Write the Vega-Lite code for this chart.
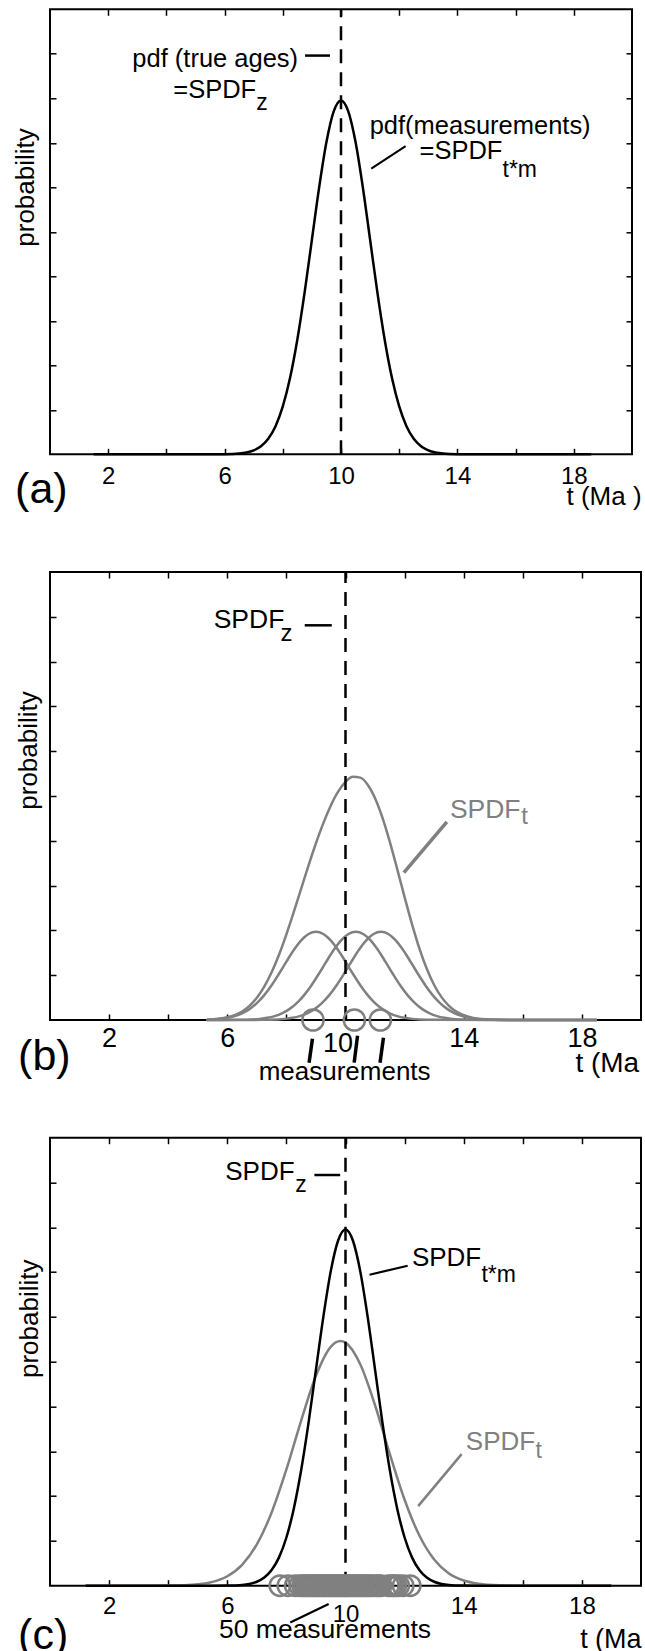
{
"$schema": "https://vega.github.io/schema/vega-lite/v6.json",
"background": "white",
"padding": {"left": 11, "top": 6.3, "right": 0, "bottom": 0},
"bounds": "flush",
"spacing": 117.7,
"datasets": {
"curves": [
{"panel":"a","s":"tm","t":1.5,"p":0},{"panel":"a","s":"tm","t":5.5,"p":0},{"panel":"a","s":"tm","t":6,"p":0.0003},{"panel":"a","s":"tm","t":6.5,"p":0.0017},{"panel":"a","s":"tm","t":6.75,"p":0.004},{"panel":"a","s":"tm","t":7,"p":0.0088},{"panel":"a","s":"tm","t":7.25,"p":0.0181},{"panel":"a","s":"tm","t":7.5,"p":0.0349},{"panel":"a","s":"tm","t":7.75,"p":0.0632},{"panel":"a","s":"tm","t":8,"p":0.1076},{"panel":"a","s":"tm","t":8.25,"p":0.1719},{"panel":"a","s":"tm","t":8.5,"p":0.2581},{"panel":"a","s":"tm","t":8.75,"p":0.364},{"panel":"a","s":"tm","t":9,"p":0.4822},{"panel":"a","s":"tm","t":9.25,"p":0.6001},{"panel":"a","s":"tm","t":9.5,"p":0.7016},{"panel":"a","s":"tm","t":9.75,"p":0.7705},{"panel":"a","s":"tm","t":10,"p":0.795},{"panel":"a","s":"tm","t":10.25,"p":0.7705},{"panel":"a","s":"tm","t":10.5,"p":0.7016},{"panel":"a","s":"tm","t":10.75,"p":0.6001},{"panel":"a","s":"tm","t":11,"p":0.4822},{"panel":"a","s":"tm","t":11.25,"p":0.364},{"panel":"a","s":"tm","t":11.5,"p":0.2581},{"panel":"a","s":"tm","t":11.75,"p":0.1719},{"panel":"a","s":"tm","t":12,"p":0.1076},{"panel":"a","s":"tm","t":12.25,"p":0.0632},{"panel":"a","s":"tm","t":12.5,"p":0.0349},{"panel":"a","s":"tm","t":12.75,"p":0.0181},{"panel":"a","s":"tm","t":13,"p":0.0088},{"panel":"a","s":"tm","t":13.25,"p":0.004},{"panel":"a","s":"tm","t":13.5,"p":0.0017},{"panel":"a","s":"tm","t":14,"p":0.0003},{"panel":"a","s":"tm","t":14.5,"p":0},{"panel":"a","s":"tm","t":18.6,"p":0},

{"panel":"b","s":"sum","t":5.3,"p":0},{"panel":"b","s":"sum","t":5.5,"p":0.0016},{"panel":"b","s":"sum","t":5.75,"p":0.0032},{"panel":"b","s":"sum","t":6,"p":0.0061},{"panel":"b","s":"sum","t":6.25,"p":0.011},{"panel":"b","s":"sum","t":6.5,"p":0.0191},{"panel":"b","s":"sum","t":6.75,"p":0.0315},{"panel":"b","s":"sum","t":7,"p":0.0496},{"panel":"b","s":"sum","t":7.25,"p":0.0743},{"panel":"b","s":"sum","t":7.5,"p":0.1064},{"panel":"b","s":"sum","t":7.75,"p":0.1457},{"panel":"b","s":"sum","t":8,"p":0.1912},{"panel":"b","s":"sum","t":8.25,"p":0.2412},{"panel":"b","s":"sum","t":8.5,"p":0.2934},{"panel":"b","s":"sum","t":8.75,"p":0.3453},{"panel":"b","s":"sum","t":9,"p":0.3946},{"panel":"b","s":"sum","t":9.25,"p":0.4395},{"panel":"b","s":"sum","t":9.5,"p":0.4783},{"panel":"b","s":"sum","t":9.75,"p":0.5096},{"panel":"b","s":"sum","t":10,"p":0.5316},{"panel":"b","s":"sum","t":10.25,"p":0.5427},{"panel":"b","s":"sum","t":10.5,"p":0.541},{"panel":"b","s":"sum","t":10.75,"p":0.5253},{"panel":"b","s":"sum","t":11,"p":0.4951},{"panel":"b","s":"sum","t":11.25,"p":0.4516},{"panel":"b","s":"sum","t":11.5,"p":0.3976},{"panel":"b","s":"sum","t":11.75,"p":0.3369},{"panel":"b","s":"sum","t":12,"p":0.2743},{"panel":"b","s":"sum","t":12.25,"p":0.2142},{"panel":"b","s":"sum","t":12.5,"p":0.1601},{"panel":"b","s":"sum","t":12.75,"p":0.1145},{"panel":"b","s":"sum","t":13,"p":0.0782},{"panel":"b","s":"sum","t":13.25,"p":0.051},{"panel":"b","s":"sum","t":13.5,"p":0.0317},{"panel":"b","s":"sum","t":13.75,"p":0.0188},{"panel":"b","s":"sum","t":14,"p":0.0106},{"panel":"b","s":"sum","t":14.25,"p":0.0057},{"panel":"b","s":"sum","t":14.5,"p":0.0029},{"panel":"b","s":"sum","t":14.75,"p":0.0014},{"panel":"b","s":"sum","t":15,"p":0.0006},{"panel":"b","s":"sum","t":15.5,"p":0.0001},{"panel":"b","s":"sum","t":18.5,"p":0},

{"panel":"b","s":"m1","t":5.3,"p":0.0007},{"panel":"b","s":"m1","t":5.5,"p":0.0012},{"panel":"b","s":"m1","t":5.75,"p":0.0025},{"panel":"b","s":"m1","t":6,"p":0.0048},{"panel":"b","s":"m1","t":6.25,"p":0.0087},{"panel":"b","s":"m1","t":6.5,"p":0.0149},{"panel":"b","s":"m1","t":6.75,"p":0.0243},{"panel":"b","s":"m1","t":7,"p":0.0377},{"panel":"b","s":"m1","t":7.25,"p":0.0556},{"panel":"b","s":"m1","t":7.5,"p":0.0777},{"panel":"b","s":"m1","t":7.75,"p":0.1033},{"panel":"b","s":"m1","t":8,"p":0.1303},{"panel":"b","s":"m1","t":8.25,"p":0.1561},{"panel":"b","s":"m1","t":8.5,"p":0.1777},{"panel":"b","s":"m1","t":8.75,"p":0.192},{"panel":"b","s":"m1","t":9,"p":0.197},{"panel":"b","s":"m1","t":9.25,"p":0.192},{"panel":"b","s":"m1","t":9.5,"p":0.1777},{"panel":"b","s":"m1","t":9.75,"p":0.1561},{"panel":"b","s":"m1","t":10,"p":0.1303},{"panel":"b","s":"m1","t":10.25,"p":0.1033},{"panel":"b","s":"m1","t":10.5,"p":0.0777},{"panel":"b","s":"m1","t":10.75,"p":0.0556},{"panel":"b","s":"m1","t":11,"p":0.0377},{"panel":"b","s":"m1","t":11.25,"p":0.0243},{"panel":"b","s":"m1","t":11.5,"p":0.0149},{"panel":"b","s":"m1","t":11.75,"p":0.0087},{"panel":"b","s":"m1","t":12,"p":0.0048},{"panel":"b","s":"m1","t":12.25,"p":0.0025},{"panel":"b","s":"m1","t":12.5,"p":0.0012},{"panel":"b","s":"m1","t":13,"p":0.0003},{"panel":"b","s":"m1","t":18.5,"p":0},

{"panel":"b","s":"m2","t":5.3,"p":0},{"panel":"b","s":"m2","t":6.35,"p":0.0003},{"panel":"b","s":"m2","t":6.85,"p":0.0012},{"panel":"b","s":"m2","t":7.1,"p":0.0025},{"panel":"b","s":"m2","t":7.35,"p":0.0048},{"panel":"b","s":"m2","t":7.6,"p":0.0087},{"panel":"b","s":"m2","t":7.85,"p":0.0149},{"panel":"b","s":"m2","t":8.1,"p":0.0243},{"panel":"b","s":"m2","t":8.35,"p":0.0377},{"panel":"b","s":"m2","t":8.6,"p":0.0556},{"panel":"b","s":"m2","t":8.85,"p":0.0777},{"panel":"b","s":"m2","t":9.1,"p":0.1033},{"panel":"b","s":"m2","t":9.35,"p":0.1303},{"panel":"b","s":"m2","t":9.6,"p":0.1561},{"panel":"b","s":"m2","t":9.85,"p":0.1777},{"panel":"b","s":"m2","t":10.1,"p":0.192},{"panel":"b","s":"m2","t":10.35,"p":0.197},{"panel":"b","s":"m2","t":10.6,"p":0.192},{"panel":"b","s":"m2","t":10.85,"p":0.1777},{"panel":"b","s":"m2","t":11.1,"p":0.1561},{"panel":"b","s":"m2","t":11.35,"p":0.1303},{"panel":"b","s":"m2","t":11.6,"p":0.1033},{"panel":"b","s":"m2","t":11.85,"p":0.0777},{"panel":"b","s":"m2","t":12.1,"p":0.0556},{"panel":"b","s":"m2","t":12.35,"p":0.0377},{"panel":"b","s":"m2","t":12.6,"p":0.0243},{"panel":"b","s":"m2","t":12.85,"p":0.0149},{"panel":"b","s":"m2","t":13.1,"p":0.0087},{"panel":"b","s":"m2","t":13.35,"p":0.0048},{"panel":"b","s":"m2","t":13.6,"p":0.0025},{"panel":"b","s":"m2","t":13.85,"p":0.0012},{"panel":"b","s":"m2","t":14.35,"p":0.0003},{"panel":"b","s":"m2","t":18.5,"p":0},

{"panel":"b","s":"m3","t":5.3,"p":0},{"panel":"b","s":"m3","t":7.2,"p":0.0003},{"panel":"b","s":"m3","t":7.7,"p":0.0012},{"panel":"b","s":"m3","t":7.95,"p":0.0025},{"panel":"b","s":"m3","t":8.2,"p":0.0048},{"panel":"b","s":"m3","t":8.45,"p":0.0087},{"panel":"b","s":"m3","t":8.7,"p":0.0149},{"panel":"b","s":"m3","t":8.95,"p":0.0243},{"panel":"b","s":"m3","t":9.2,"p":0.0377},{"panel":"b","s":"m3","t":9.45,"p":0.0556},{"panel":"b","s":"m3","t":9.7,"p":0.0777},{"panel":"b","s":"m3","t":9.95,"p":0.1033},{"panel":"b","s":"m3","t":10.2,"p":0.1303},{"panel":"b","s":"m3","t":10.45,"p":0.1561},{"panel":"b","s":"m3","t":10.7,"p":0.1777},{"panel":"b","s":"m3","t":10.95,"p":0.192},{"panel":"b","s":"m3","t":11.2,"p":0.197},{"panel":"b","s":"m3","t":11.45,"p":0.192},{"panel":"b","s":"m3","t":11.7,"p":0.1777},{"panel":"b","s":"m3","t":11.95,"p":0.1561},{"panel":"b","s":"m3","t":12.2,"p":0.1303},{"panel":"b","s":"m3","t":12.45,"p":0.1033},{"panel":"b","s":"m3","t":12.7,"p":0.0777},{"panel":"b","s":"m3","t":12.95,"p":0.0556},{"panel":"b","s":"m3","t":13.2,"p":0.0377},{"panel":"b","s":"m3","t":13.45,"p":0.0243},{"panel":"b","s":"m3","t":13.7,"p":0.0149},{"panel":"b","s":"m3","t":13.95,"p":0.0087},{"panel":"b","s":"m3","t":14.2,"p":0.0048},{"panel":"b","s":"m3","t":14.45,"p":0.0025},{"panel":"b","s":"m3","t":14.7,"p":0.0012},{"panel":"b","s":"m3","t":15.2,"p":0.0003},{"panel":"b","s":"m3","t":18.5,"p":0},

{"panel":"c","s":"tm","t":1.2,"p":0},{"panel":"c","s":"tm","t":5.5,"p":0},{"panel":"c","s":"tm","t":6,"p":0.0003},{"panel":"c","s":"tm","t":6.5,"p":0.0017},{"panel":"c","s":"tm","t":6.75,"p":0.004},{"panel":"c","s":"tm","t":7,"p":0.0088},{"panel":"c","s":"tm","t":7.25,"p":0.0181},{"panel":"c","s":"tm","t":7.5,"p":0.0349},{"panel":"c","s":"tm","t":7.75,"p":0.0632},{"panel":"c","s":"tm","t":8,"p":0.1076},{"panel":"c","s":"tm","t":8.25,"p":0.1719},{"panel":"c","s":"tm","t":8.5,"p":0.2581},{"panel":"c","s":"tm","t":8.75,"p":0.364},{"panel":"c","s":"tm","t":9,"p":0.4822},{"panel":"c","s":"tm","t":9.25,"p":0.6001},{"panel":"c","s":"tm","t":9.5,"p":0.7016},{"panel":"c","s":"tm","t":9.75,"p":0.7705},{"panel":"c","s":"tm","t":10,"p":0.795},{"panel":"c","s":"tm","t":10.25,"p":0.7705},{"panel":"c","s":"tm","t":10.5,"p":0.7016},{"panel":"c","s":"tm","t":10.75,"p":0.6001},{"panel":"c","s":"tm","t":11,"p":0.4822},{"panel":"c","s":"tm","t":11.25,"p":0.364},{"panel":"c","s":"tm","t":11.5,"p":0.2581},{"panel":"c","s":"tm","t":11.75,"p":0.1719},{"panel":"c","s":"tm","t":12,"p":0.1076},{"panel":"c","s":"tm","t":12.25,"p":0.0632},{"panel":"c","s":"tm","t":12.5,"p":0.0349},{"panel":"c","s":"tm","t":12.75,"p":0.0181},{"panel":"c","s":"tm","t":13,"p":0.0088},{"panel":"c","s":"tm","t":13.25,"p":0.004},{"panel":"c","s":"tm","t":13.5,"p":0.0017},{"panel":"c","s":"tm","t":14,"p":0.0003},{"panel":"c","s":"tm","t":14.5,"p":0},{"panel":"c","s":"tm","t":19,"p":0},

{"panel":"c","s":"sum","t":1.2,"p":0},{"panel":"c","s":"sum","t":3.5,"p":0},{"panel":"c","s":"sum","t":4,"p":0.0003},{"panel":"c","s":"sum","t":4.5,"p":0.001},{"panel":"c","s":"sum","t":5,"p":0.0031},{"panel":"c","s":"sum","t":5.5,"p":0.0085},{"panel":"c","s":"sum","t":6,"p":0.021},{"panel":"c","s":"sum","t":6.5,"p":0.0465},{"panel":"c","s":"sum","t":7,"p":0.0921},{"panel":"c","s":"sum","t":7.5,"p":0.1635},{"panel":"c","s":"sum","t":8,"p":0.2594},{"panel":"c","s":"sum","t":8.5,"p":0.3686},{"panel":"c","s":"sum","t":9,"p":0.4685},{"panel":"c","s":"sum","t":9.5,"p":0.533},{"panel":"c","s":"sum","t":9.83,"p":0.546},{"panel":"c","s":"sum","t":10,"p":0.5425},{"panel":"c","s":"sum","t":10.5,"p":0.4941},{"panel":"c","s":"sum","t":11,"p":0.4028},{"panel":"c","s":"sum","t":11.5,"p":0.2938},{"panel":"c","s":"sum","t":12,"p":0.1918},{"panel":"c","s":"sum","t":12.5,"p":0.112},{"panel":"c","s":"sum","t":13,"p":0.0585},{"panel":"c","s":"sum","t":13.5,"p":0.0274},{"panel":"c","s":"sum","t":14,"p":0.0115},{"panel":"c","s":"sum","t":14.5,"p":0.0043},{"panel":"c","s":"sum","t":15,"p":0.0014},{"panel":"c","s":"sum","t":15.5,"p":0.0004},{"panel":"c","s":"sum","t":16,"p":0.0001},{"panel":"c","s":"sum","t":19,"p":0}
],
"meas": [
{"panel":"b","t":8.9},{"panel":"b","t":10.3},{"panel":"b","t":11.18},
{"panel":"c","t":7.78},{"panel":"c","t":8.05},{"panel":"c","t":8.3},{"panel":"c","t":8.45},{"panel":"c","t":8.55},{"panel":"c","t":8.62},{"panel":"c","t":8.7},{"panel":"c","t":8.78},{"panel":"c","t":8.85},{"panel":"c","t":8.9},{"panel":"c","t":8.97},{"panel":"c","t":9.05},{"panel":"c","t":9.1},{"panel":"c","t":9.18},{"panel":"c","t":9.25},{"panel":"c","t":9.3},{"panel":"c","t":9.38},{"panel":"c","t":9.45},{"panel":"c","t":9.5},{"panel":"c","t":9.57},{"panel":"c","t":9.63},{"panel":"c","t":9.7},{"panel":"c","t":9.76},{"panel":"c","t":9.82},{"panel":"c","t":9.88},{"panel":"c","t":9.94},{"panel":"c","t":10.0},{"panel":"c","t":10.06},{"panel":"c","t":10.12},{"panel":"c","t":10.2},{"panel":"c","t":10.27},{"panel":"c","t":10.33},{"panel":"c","t":10.4},{"panel":"c","t":10.48},{"panel":"c","t":10.55},{"panel":"c","t":10.62},{"panel":"c","t":10.7},{"panel":"c","t":10.78},{"panel":"c","t":10.85},{"panel":"c","t":10.95},{"panel":"c","t":11.05},{"panel":"c","t":11.12},{"panel":"c","t":11.2},{"panel":"c","t":11.45},{"panel":"c","t":11.55},{"panel":"c","t":11.62},{"panel":"c","t":11.7},{"panel":"c","t":11.8},{"panel":"c","t":11.95},{"panel":"c","t":12.19}
]
},
"vconcat": [
{
"width": 582, "height": 445,
"data": {"values": [{}]},
"resolve": {"axis": {"x": "independent", "y": "independent"}},
"layer": [
{"data": {"name": "curves"}, "transform": [{"filter": "datum.panel == 'a'"}],
 "mark": {"type": "line", "color": "black", "strokeWidth": 2.5, "interpolate": "monotone"},
 "encoding": {
  "x": {"field": "t", "type": "quantitative", "scale": {"domain": [0, 20], "nice": false}, "axis": {"orient": "bottom", "values": [2,4,6,8,10,12,14,16,18], "labelExpr": "datum.value % 4 == 2 ? datum.label : ''", "labelFontSize": 24, "labelBaseline": "alphabetic", "labelPadding": 35.5, "title": null}},
  "y": {"field": "p", "type": "quantitative", "scale": {"domain": [0, 1], "nice": false}, "axis": {"orient": "left", "values": [0.1,0.2,0.3,0.4,0.5,0.6,0.7,0.8,0.9], "labels": false, "title": "probability", "titleFontSize": 26, "titleAngle": 270, "titleX": -17, "titleY": 177.7, "titleAlign": "center", "titleBaseline": "alphabetic"}}
 }},
{"mark": {"type": "rule", "color": "black", "strokeWidth": 2.5, "strokeDash": [14, 9]},
 "encoding": {
  "x": {"datum": 10, "type": "quantitative", "scale": {"domain": [0, 20], "nice": false}, "axis": {"orient": "top", "values": [2,4,6,8,10,12,14,16,18], "labels": false, "title": null}},
  "y": {"datum": 0, "type": "quantitative", "scale": {"domain": [0, 1], "nice": false}, "axis": {"orient": "right", "values": [0.1,0.2,0.3,0.4,0.5,0.6,0.7,0.8,0.9], "labels": false, "title": null}},
  "y2": {"datum": 1}
 }},
{"mark": {"type": "text", "align": "right", "baseline": "alphabetic", "fontSize": 25.5},
 "encoding": {"x": {"datum": 8.525, "type": "quantitative", "scale": {"domain": [0, 20], "nice": false}, "axis": null}, "y": {"datum": 0.8704, "type": "quantitative", "scale": {"domain": [0, 1], "nice": false}, "axis": null}, "text": {"value": "pdf (true ages)"}}},
{"mark": {"type": "rule", "color": "black", "strokeWidth": 2.5},
 "encoding": {"x": {"datum": 8.765, "type": "quantitative", "scale": {"domain": [0, 20], "nice": false}, "axis": null}, "x2": {"datum": 9.623}, "y": {"datum": 0.896, "type": "quantitative", "scale": {"domain": [0, 1], "nice": false}, "axis": null}}},
{"mark": {"type": "text", "align": "left", "baseline": "alphabetic", "fontSize": 25.5},
 "encoding": {"x": {"datum": 4.237, "type": "quantitative", "scale": {"domain": [0, 20], "nice": false}, "axis": null}, "y": {"datum": 0.8007, "type": "quantitative", "scale": {"domain": [0, 1], "nice": false}, "axis": null}, "text": {"value": "=SPDF"}}},
{"mark": {"type": "text", "align": "left", "baseline": "alphabetic", "fontSize": 23},
 "encoding": {"x": {"datum": 7.086, "type": "quantitative", "scale": {"domain": [0, 20], "nice": false}, "axis": null}, "y": {"datum": 0.773, "type": "quantitative", "scale": {"domain": [0, 1], "nice": false}, "axis": null}, "text": {"value": "z"}}},
{"mark": {"type": "text", "align": "left", "baseline": "alphabetic", "fontSize": 25.5},
 "encoding": {"x": {"datum": 10.985, "type": "quantitative", "scale": {"domain": [0, 20], "nice": false}, "axis": null}, "y": {"datum": 0.7205, "type": "quantitative", "scale": {"domain": [0, 1], "nice": false}, "axis": null}, "text": {"value": "pdf(measurements)"}}},
{"mark": {"type": "text", "align": "left", "baseline": "alphabetic", "fontSize": 25.5},
 "encoding": {"x": {"datum": 12.7, "type": "quantitative", "scale": {"domain": [0, 20], "nice": false}, "axis": null}, "y": {"datum": 0.6643, "type": "quantitative", "scale": {"domain": [0, 1], "nice": false}, "axis": null}, "text": {"value": "=SPDF"}}},
{"mark": {"type": "text", "align": "left", "baseline": "alphabetic", "fontSize": 23},
 "encoding": {"x": {"datum": 15.55, "type": "quantitative", "scale": {"domain": [0, 20], "nice": false}, "axis": null}, "y": {"datum": 0.6231, "type": "quantitative", "scale": {"domain": [0, 1], "nice": false}, "axis": null}, "text": {"value": "t*m"}}},
{"mark": {"type": "rule", "color": "black", "strokeWidth": 2},
 "encoding": {"x": {"datum": 11.04, "type": "quantitative", "scale": {"domain": [0, 20], "nice": false}, "axis": null}, "x2": {"datum": 12.22}, "y": {"datum": 0.6418, "type": "quantitative", "scale": {"domain": [0, 1], "nice": false}, "axis": null}, "y2": {"datum": 0.6927}}},
{"mark": {"type": "text", "align": "left", "baseline": "alphabetic", "fontSize": 43},
 "encoding": {"x": {"datum": -1.2, "type": "quantitative", "scale": {"domain": [0, 20], "nice": false}, "axis": null}, "y": {"datum": -0.1094, "type": "quantitative", "scale": {"domain": [0, 1], "nice": false}, "axis": null}, "text": {"value": "(a)"}}},
{"mark": {"type": "text", "align": "left", "baseline": "alphabetic", "fontSize": 26},
 "encoding": {"x": {"datum": 17.75, "type": "quantitative", "scale": {"domain": [0, 20], "nice": false}, "axis": null}, "y": {"datum": -0.115, "type": "quantitative", "scale": {"domain": [0, 1], "nice": false}, "axis": null}, "text": {"value": "t (Ma )"}}}
]
},
{
"width": 591, "height": 448,
"data": {"values": [{}]},
"resolve": {"axis": {"x": "independent", "y": "independent"}},
"layer": [
{"data": {"name": "curves"}, "transform": [{"filter": "datum.panel == 'b'"}],
 "mark": {"type": "line", "color": "#808080", "strokeWidth": 2.5, "interpolate": "monotone"},
 "encoding": {
  "detail": {"field": "s"},
  "x": {"field": "t", "type": "quantitative", "scale": {"domain": [0, 20], "nice": false}, "axis": {"orient": "bottom", "values": [2,4,6,8,10,12,14,16,18], "labelExpr": "datum.value % 4 == 2 ? datum.label : ''", "labelFontSize": 27, "labelBaseline": "alphabetic", "labelPadding": {"condition": {"test": "datum.value == 10", "value": 37.4}, "value": 32.4}, "labelOffset": {"condition": {"test": "datum.value == 10", "value": -8}, "value": 0}, "title": null}},
  "y": {"field": "p", "type": "quantitative", "scale": {"domain": [0, 1], "nice": false}, "axis": {"orient": "left", "values": [0.1,0.2,0.3,0.4,0.5,0.6,0.7,0.8,0.9], "labels": false, "title": "probability", "titleFontSize": 26, "titleAngle": 270, "titleX": -13.7, "titleY": 178, "titleAlign": "center", "titleBaseline": "alphabetic"}}
 }},
{"mark": {"type": "rule", "color": "black", "strokeWidth": 2.5, "strokeDash": [14, 9]},
 "encoding": {
  "x": {"datum": 10, "type": "quantitative", "scale": {"domain": [0, 20], "nice": false}, "axis": {"orient": "top", "values": [2,4,6,8,10,12,14,16,18], "labels": false, "title": null}},
  "y": {"datum": 0, "type": "quantitative", "scale": {"domain": [0, 1], "nice": false}, "axis": {"orient": "right", "values": [0.1,0.2,0.3,0.4,0.5,0.6,0.7,0.8,0.9], "labels": false, "title": null}},
  "y2": {"datum": 1}
 }},
{"data": {"name": "meas"}, "transform": [{"filter": "datum.panel == 'b'"}],
 "mark": {"type": "point", "shape": "circle", "filled": false, "color": "#808080", "strokeWidth": 2.5, "size": 450, "opacity": 1},
 "encoding": {"x": {"field": "t", "type": "quantitative", "scale": {"domain": [0, 20], "nice": false}, "axis": null}, "y": {"datum": 0, "type": "quantitative", "scale": {"domain": [0, 1], "nice": false}, "axis": null}}},
{"mark": {"type": "text", "align": "left", "baseline": "alphabetic", "fontSize": 26.5},
 "encoding": {"x": {"datum": 5.539, "type": "quantitative", "scale": {"domain": [0, 20], "nice": false}, "axis": null}, "y": {"datum": 0.875, "type": "quantitative", "scale": {"domain": [0, 1], "nice": false}, "axis": null}, "text": {"value": "SPDF"}}},
{"mark": {"type": "text", "align": "left", "baseline": "alphabetic", "fontSize": 24},
 "encoding": {"x": {"datum": 7.8, "type": "quantitative", "scale": {"domain": [0, 20], "nice": false}, "axis": null}, "y": {"datum": 0.846, "type": "quantitative", "scale": {"domain": [0, 1], "nice": false}, "axis": null}, "text": {"value": "z"}}},
{"mark": {"type": "rule", "color": "black", "strokeWidth": 2.5},
 "encoding": {"x": {"datum": 8.62, "type": "quantitative", "scale": {"domain": [0, 20], "nice": false}, "axis": null}, "x2": {"datum": 9.536}, "y": {"datum": 0.881, "type": "quantitative", "scale": {"domain": [0, 1], "nice": false}, "axis": null}}},
{"mark": {"type": "text", "align": "left", "baseline": "alphabetic", "fontSize": 26.5, "color": "#808080"},
 "encoding": {"x": {"datum": 13.533, "type": "quantitative", "scale": {"domain": [0, 20], "nice": false}, "axis": null}, "y": {"datum": 0.4513, "type": "quantitative", "scale": {"domain": [0, 1], "nice": false}, "axis": null}, "text": {"value": "SPDF"}}},
{"mark": {"type": "text", "align": "left", "baseline": "alphabetic", "fontSize": 24, "color": "#808080"},
 "encoding": {"x": {"datum": 15.95, "type": "quantitative", "scale": {"domain": [0, 20], "nice": false}, "axis": null}, "y": {"datum": 0.438, "type": "quantitative", "scale": {"domain": [0, 1], "nice": false}, "axis": null}, "text": {"value": "t"}}},
{"mark": {"type": "rule", "color": "#808080", "strokeWidth": 3.5},
 "encoding": {"x": {"datum": 11.975, "type": "quantitative", "scale": {"domain": [0, 20], "nice": false}, "axis": null}, "x2": {"datum": 13.431}, "y": {"datum": 0.329, "type": "quantitative", "scale": {"domain": [0, 1], "nice": false}, "axis": null}, "y2": {"datum": 0.442}}},
{"mark": {"type": "text", "align": "left", "baseline": "alphabetic", "fontSize": 26},
 "encoding": {"x": {"datum": 7.063, "type": "quantitative", "scale": {"domain": [0, 20], "nice": false}, "axis": null}, "y": {"datum": -0.1333, "type": "quantitative", "scale": {"domain": [0, 1], "nice": false}, "axis": null}, "text": {"value": "measurements"}}},
{"mark": {"type": "rule", "color": "black", "strokeWidth": 3.5},
 "encoding": {"x": {"datum": 8.767, "type": "quantitative", "scale": {"domain": [0, 20], "nice": false}, "axis": null}, "x2": {"datum": 8.882}, "y": {"datum": -0.0952, "type": "quantitative", "scale": {"domain": [0, 1], "nice": false}, "axis": null}, "y2": {"datum": -0.0417}}},
{"mark": {"type": "rule", "color": "black", "strokeWidth": 3.5},
 "encoding": {"x": {"datum": 10.293, "type": "quantitative", "scale": {"domain": [0, 20], "nice": false}, "axis": null}, "x2": {"datum": 10.407}, "y": {"datum": -0.0952, "type": "quantitative", "scale": {"domain": [0, 1], "nice": false}, "axis": null}, "y2": {"datum": -0.035}}},
{"mark": {"type": "rule", "color": "black", "strokeWidth": 3.5},
 "encoding": {"x": {"datum": 11.169, "type": "quantitative", "scale": {"domain": [0, 20], "nice": false}, "axis": null}, "x2": {"datum": 11.284}, "y": {"datum": -0.0952, "type": "quantitative", "scale": {"domain": [0, 1], "nice": false}, "axis": null}, "y2": {"datum": -0.0394}}},
{"mark": {"type": "text", "align": "left", "baseline": "alphabetic", "fontSize": 43},
 "encoding": {"x": {"datum": -1.08, "type": "quantitative", "scale": {"domain": [0, 20], "nice": false}, "axis": null}, "y": {"datum": -0.111, "type": "quantitative", "scale": {"domain": [0, 1], "nice": false}, "axis": null}, "text": {"value": "(b)"}}},
{"mark": {"type": "text", "align": "left", "baseline": "alphabetic", "fontSize": 28},
 "encoding": {"x": {"datum": 17.78, "type": "quantitative", "scale": {"domain": [0, 20], "nice": false}, "axis": null}, "y": {"datum": -0.116, "type": "quantitative", "scale": {"domain": [0, 1], "nice": false}, "axis": null}, "text": {"value": "t (Ma )"}}}
]
},
{
"width": 591, "height": 448,
"data": {"values": [{}]},
"resolve": {"axis": {"x": "independent", "y": "independent"}},
"layer": [
{"data": {"name": "curves"}, "transform": [{"filter": "datum.panel == 'c' && datum.s == 'sum'"}],
 "mark": {"type": "line", "color": "#808080", "strokeWidth": 2.5, "interpolate": "monotone"},
 "encoding": {
  "x": {"field": "t", "type": "quantitative", "scale": {"domain": [0, 20], "nice": false}, "axis": {"orient": "bottom", "values": [2,4,6,8,10,12,14,16,18], "labelExpr": "datum.value % 4 == 2 ? datum.label : ''", "labelFontSize": 24, "labelBaseline": "alphabetic", "labelPadding": {"condition": {"test": "datum.value == 10", "value": 41.5}, "value": 33.5}, "title": null}},
  "y": {"field": "p", "type": "quantitative", "scale": {"domain": [0, 1], "nice": false}, "axis": {"orient": "left", "values": [0.1,0.2,0.3,0.4,0.5,0.6,0.7,0.8,0.9], "labels": false, "title": "probability", "titleFontSize": 26, "titleAngle": 270, "titleX": -12.6, "titleY": 180.6, "titleAlign": "center", "titleBaseline": "alphabetic"}}
 }},
{"data": {"name": "curves"}, "transform": [{"filter": "datum.panel == 'c' && datum.s == 'tm'"}],
 "mark": {"type": "line", "color": "black", "strokeWidth": 2.5, "interpolate": "monotone"},
 "encoding": {
  "x": {"field": "t", "type": "quantitative", "scale": {"domain": [0, 20], "nice": false}, "axis": {"orient": "top", "values": [2,4,6,8,10,12,14,16,18], "labels": false, "title": null}},
  "y": {"field": "p", "type": "quantitative", "scale": {"domain": [0, 1], "nice": false}, "axis": {"orient": "right", "values": [0.1,0.2,0.3,0.4,0.5,0.6,0.7,0.8,0.9], "labels": false, "title": null}}
 }},
{"mark": {"type": "rule", "color": "black", "strokeWidth": 2.5, "strokeDash": [14, 9]},
 "encoding": {"x": {"datum": 10, "type": "quantitative", "scale": {"domain": [0, 20], "nice": false}, "axis": null}, "y": {"datum": 0, "type": "quantitative", "scale": {"domain": [0, 1], "nice": false}, "axis": null}, "y2": {"datum": 1}}},
{"data": {"name": "meas"}, "transform": [{"filter": "datum.panel == 'c'"}],
 "mark": {"type": "point", "shape": "circle", "filled": false, "color": "#808080", "strokeWidth": 2.5, "size": 420, "opacity": 1},
 "encoding": {"x": {"field": "t", "type": "quantitative", "scale": {"domain": [0, 20], "nice": false}, "axis": null}, "y": {"datum": 0, "type": "quantitative", "scale": {"domain": [0, 1], "nice": false}, "axis": null}}},
{"mark": {"type": "text", "align": "left", "baseline": "alphabetic", "fontSize": 26},
 "encoding": {"x": {"datum": 5.932, "type": "quantitative", "scale": {"domain": [0, 20], "nice": false}, "axis": null}, "y": {"datum": 0.9063, "type": "quantitative", "scale": {"domain": [0, 1], "nice": false}, "axis": null}, "text": {"value": "SPDF"}}},
{"mark": {"type": "text", "align": "left", "baseline": "alphabetic", "fontSize": 23},
 "encoding": {"x": {"datum": 8.3, "type": "quantitative", "scale": {"domain": [0, 20], "nice": false}, "axis": null}, "y": {"datum": 0.8783, "type": "quantitative", "scale": {"domain": [0, 1], "nice": false}, "axis": null}, "text": {"value": "z"}}},
{"mark": {"type": "rule", "color": "black", "strokeWidth": 2.5},
 "encoding": {"x": {"datum": 8.948, "type": "quantitative", "scale": {"domain": [0, 20], "nice": false}, "axis": null}, "x2": {"datum": 9.82}, "y": {"datum": 0.9167, "type": "quantitative", "scale": {"domain": [0, 1], "nice": false}, "axis": null}}},
{"mark": {"type": "text", "align": "left", "baseline": "alphabetic", "fontSize": 26},
 "encoding": {"x": {"datum": 12.248, "type": "quantitative", "scale": {"domain": [0, 20], "nice": false}, "axis": null}, "y": {"datum": 0.7142, "type": "quantitative", "scale": {"domain": [0, 1], "nice": false}, "axis": null}, "text": {"value": "SPDF"}}},
{"mark": {"type": "text", "align": "left", "baseline": "alphabetic", "fontSize": 23},
 "encoding": {"x": {"datum": 14.6, "type": "quantitative", "scale": {"domain": [0, 20], "nice": false}, "axis": null}, "y": {"datum": 0.6781, "type": "quantitative", "scale": {"domain": [0, 1], "nice": false}, "axis": null}, "text": {"value": "t*m"}}},
{"mark": {"type": "rule", "color": "black", "strokeWidth": 2.2},
 "encoding": {"x": {"datum": 10.815, "type": "quantitative", "scale": {"domain": [0, 20], "nice": false}, "axis": null}, "x2": {"datum": 12.105}, "y": {"datum": 0.6942, "type": "quantitative", "scale": {"domain": [0, 1], "nice": false}, "axis": null}, "y2": {"datum": 0.7142}}},
{"mark": {"type": "text", "align": "left", "baseline": "alphabetic", "fontSize": 26, "color": "#808080"},
 "encoding": {"x": {"datum": 14.071, "type": "quantitative", "scale": {"domain": [0, 20], "nice": false}, "axis": null}, "y": {"datum": 0.3018, "type": "quantitative", "scale": {"domain": [0, 1], "nice": false}, "axis": null}, "text": {"value": "SPDF"}}},
{"mark": {"type": "text", "align": "left", "baseline": "alphabetic", "fontSize": 23, "color": "#808080"},
 "encoding": {"x": {"datum": 16.43, "type": "quantitative", "scale": {"domain": [0, 20], "nice": false}, "axis": null}, "y": {"datum": 0.2858, "type": "quantitative", "scale": {"domain": [0, 1], "nice": false}, "axis": null}, "text": {"value": "t"}}},
{"mark": {"type": "rule", "color": "#808080", "strokeWidth": 2.5},
 "encoding": {"x": {"datum": 12.458, "type": "quantitative", "scale": {"domain": [0, 20], "nice": false}, "axis": null}, "x2": {"datum": 13.93}, "y": {"datum": 0.1777, "type": "quantitative", "scale": {"domain": [0, 1], "nice": false}, "axis": null}, "y2": {"datum": 0.2938}}},
{"mark": {"type": "text", "align": "left", "baseline": "alphabetic", "fontSize": 26.5},
 "encoding": {"x": {"datum": 5.72, "type": "quantitative", "scale": {"domain": [0, 20], "nice": false}, "axis": null}, "y": {"datum": -0.116, "type": "quantitative", "scale": {"domain": [0, 1], "nice": false}, "axis": null}, "text": {"value": "50 measurements"}}},
{"mark": {"type": "rule", "color": "black", "strokeWidth": 2.2},
 "encoding": {"x": {"datum": 8.13, "type": "quantitative", "scale": {"domain": [0, 20], "nice": false}, "axis": null}, "x2": {"datum": 9.43}, "y": {"datum": -0.0819, "type": "quantitative", "scale": {"domain": [0, 1], "nice": false}, "axis": null}, "y2": {"datum": -0.0408}}},
{"mark": {"type": "text", "align": "left", "baseline": "alphabetic", "fontSize": 43},
 "encoding": {"x": {"datum": -1.08, "type": "quantitative", "scale": {"domain": [0, 20], "nice": false}, "axis": null}, "y": {"datum": -0.1413, "type": "quantitative", "scale": {"domain": [0, 1], "nice": false}, "axis": null}, "text": {"value": "(c)"}}},
{"mark": {"type": "text", "align": "left", "baseline": "alphabetic", "fontSize": 27},
 "encoding": {"x": {"datum": 17.94, "type": "quantitative", "scale": {"domain": [0, 20], "nice": false}, "axis": null}, "y": {"datum": -0.138, "type": "quantitative", "scale": {"domain": [0, 1], "nice": false}, "axis": null}, "text": {"value": "t (Ma )"}}}
]
}
],
"config": {
 "view": {"stroke": "black", "strokeWidth": 2},
 "axis": {"domain": false, "grid": false, "ticks": true, "tickColor": "black", "tickWidth": 1.5, "tickSize": -6, "labelColor": "black", "labelFont": "Liberation Sans Narrow, Liberation Sans, sans-serif", "titleFont": "Liberation Sans", "titleColor": "black", "titleFontWeight": "normal", "labelOverlap": false, "labelFlush": false},
 "text": {"font": "Liberation Sans", "color": "black"}
}
}
